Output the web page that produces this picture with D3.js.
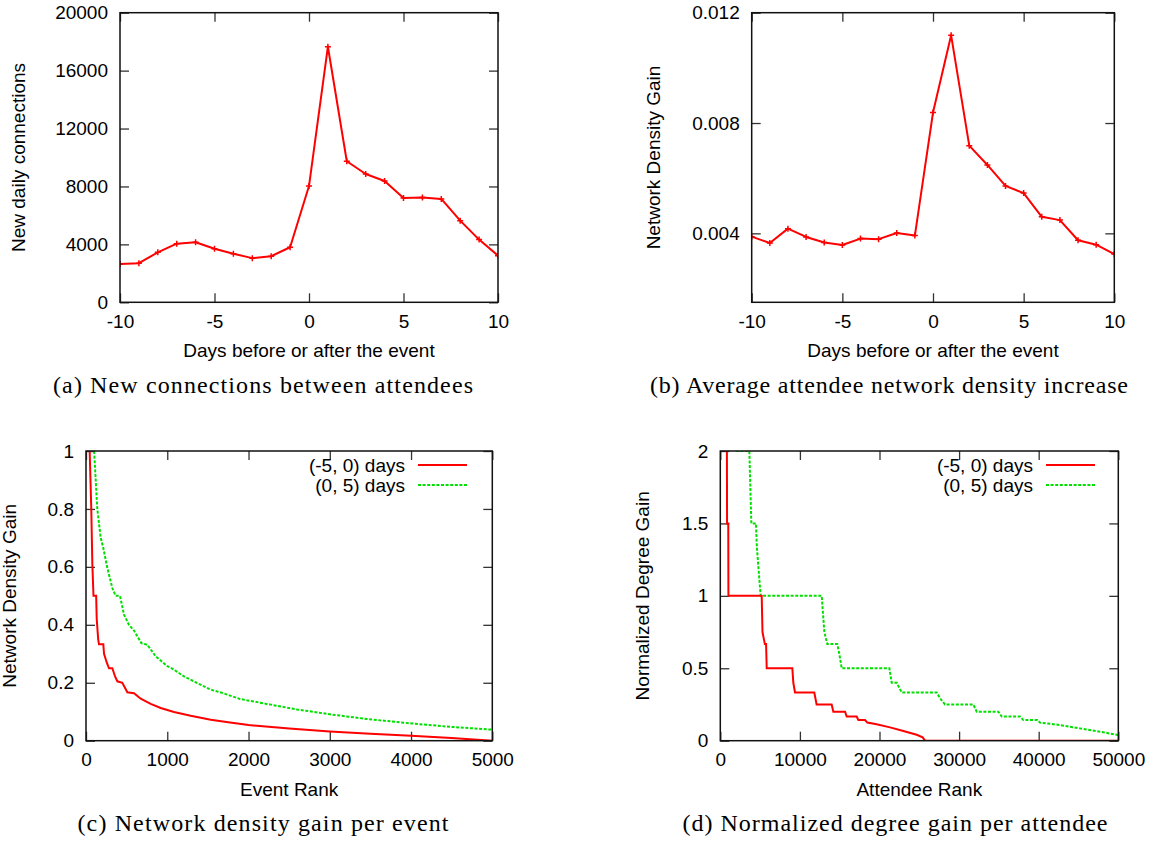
<!DOCTYPE html>
<html>
<head>
<meta charset="utf-8">
<script src="https://cdn.jsdelivr.net/npm/d3@7"></script>
<style>
  body { margin: 0; background: #fff; }
  svg { display: block; }
  .tick text { font-family: "Liberation Sans", Arial, sans-serif; font-size: 19px; fill: #000; }
  .title { font-family: "Liberation Sans", Arial, sans-serif; font-size: 19px; fill: #000; }
  .caption { font-family: "Liberation Serif", "Times New Roman", serif; font-size: 24px; fill: #000; }
</style>
</head>
<body>
<svg id="chart" width="1163" height="841"></svg>
<script>
// data
const days = [-10, -9, -8, -7, -6, -5, -4, -3, -2, -1, 0, 1, 2, 3, 4, 5, 6, 7, 8, 9, 10];
const newConnections = [2650, 2700, 3450, 4050, 4150, 3700, 3350, 3050, 3180, 3800, 8030, 17650, 9740, 8860, 8380, 7200, 7230, 7140, 5640, 4330, 3220];
const densityGain = [0.00388, 0.00365, 0.00417, 0.00387, 0.00367, 0.00358, 0.00381, 0.00379, 0.00401, 0.00392, 0.00838, 0.01118, 0.00718, 0.00648, 0.00572, 0.00546, 0.0046, 0.00448, 0.00375, 0.00359, 0.00325];

// (c) event rank vs network density gain
const eventGainBefore = [[45, 1.0], [65, 0.8], [78, 0.61], [92, 0.5], [125, 0.5], [132, 0.42], [150, 0.35], [160, 0.333], [213, 0.333], [222, 0.3], [255, 0.27], [283, 0.25], [324, 0.25], [360, 0.22], [386, 0.205], [447, 0.2], [509, 0.167], [591, 0.164], [673, 0.145], [796, 0.127], [919, 0.113], [1083, 0.099], [1288, 0.086], [1535, 0.0725], [1750, 0.064], [2000, 0.054], [2500, 0.042], [3000, 0.032], [3500, 0.024], [4000, 0.017], [4500, 0.009], [5000, 0.0]];
const eventGainAfter = [[100, 1.0], [139, 0.8], [181, 0.7], [213, 0.665], [263, 0.596], [324, 0.527], [365, 0.5], [418, 0.5], [468, 0.435], [529, 0.4], [591, 0.38], [681, 0.337], [755, 0.331], [858, 0.291], [1001, 0.257], [1062, 0.249], [1206, 0.222], [1370, 0.199], [1535, 0.176], [1678, 0.165], [1896, 0.144], [2224, 0.127], [2594, 0.108], [3004, 0.091], [3455, 0.075], [3989, 0.06], [4481, 0.048], [5000, 0.038]];

// (d) attendee rank vs normalized degree gain
const degreeGainBefore = [[830, 2], [850, 1.5], [1000, 1.5], [1020, 1.0], [5200, 1.0], [5300, 0.75], [5600, 0.667], [5750, 0.667], [5830, 0.5], [9050, 0.5], [9175, 0.4], [9385, 0.333], [11810, 0.333], [12100, 0.25], [13990, 0.25], [14200, 0.2], [15670, 0.2], [15880, 0.167], [17130, 0.167], [17340, 0.143], [18180, 0.143], [18470, 0.125], [19640, 0.113], [21320, 0.092], [23000, 0.067], [24670, 0.041], [25420, 0.023], [25720, 0], [50000, 0]];
const degreeGainAfter = [[1950, 2], [3650, 2], [3900, 1.5], [4480, 1.5], [4600, 1.33], [5070, 1.0], [12740, 1.0], [13070, 0.75], [13450, 0.667], [14700, 0.667], [14950, 0.6], [15250, 0.5], [21240, 0.5], [21530, 0.4], [22160, 0.4], [22790, 0.333], [27180, 0.333], [27700, 0.286], [28230, 0.25], [31790, 0.25], [32210, 0.2], [34930, 0.2], [35350, 0.167], [37650, 0.167], [38070, 0.143], [39830, 0.143], [40160, 0.125], [42680, 0.108], [45190, 0.085], [48120, 0.058], [50000, 0.039]];

// tick values
const dayTicks = [-10, -5, 0, 5, 10];
const connTicks = [0, 4000, 8000, 12000, 16000, 20000];
const densTicks = [0.004, 0.008, 0.012];
const eventRankTicks = [0, 1000, 2000, 3000, 4000, 5000];
const eventGainTicks = [0, 0.2, 0.4, 0.6, 0.8, 1];
const attRankTicks = [0, 10000, 20000, 30000, 40000, 50000];
const degTicks = [0, 0.5, 1, 1.5, 2];

const legendLabels = ["(-5, 0) days", "(0, 5) days"];
const RED = "#ff0000", GREEN = "#00e000";

const svg = d3.select("#chart");

// plain number text, ascii hyphen for negatives like gnuplot
const plain = d => String(d);

// draws one gnuplot-style panel: frame, inward ticks on all four sides
function drawPanel(p) {
  const g = svg.append("g").attr("transform", `translate(${p.left},${p.top})`);
  const w = p.width, h = p.height;
  const x = d3.scaleLinear().domain(p.xDomain).range([0, w]);
  const y = d3.scaleLinear().domain(p.yDomain).range([h, 0]);

  g.append("g").attr("transform", `translate(0,${h})`)
    .call(d3.axisBottom(x).tickValues(p.xTicks).tickSizeInner(-9).tickSizeOuter(0).tickPadding(12).tickFormat(plain));
  g.append("g")
    .call(d3.axisLeft(y).tickValues(p.yTicks).tickSizeInner(-9).tickSizeOuter(0).tickPadding(12).tickFormat(p.yFormat));
  g.append("g")
    .call(d3.axisTop(x).tickValues(p.xTicks).tickSizeInner(-9).tickSizeOuter(0).tickFormat(""));
  g.append("g").attr("transform", `translate(${w},0)`)
    .call(d3.axisRight(y).tickValues(p.yTicks).tickSizeInner(-9).tickSizeOuter(0).tickFormat(""));
  g.selectAll(".domain").remove();
  g.selectAll(".tick line").attr("stroke", "#333").attr("stroke-width", 1.3);

  const clipId = "clip" + p.id;
  g.append("clipPath").attr("id", clipId)
    .append("rect").attr("width", w).attr("height", h);

  const plot = g.append("g").attr("clip-path", `url(#${clipId})`);

  // frame
  g.append("rect").attr("width", w).attr("height", h)
    .attr("fill", "none").attr("stroke", "#111").attr("stroke-width", 1.5);

  // axis titles
  g.append("text").attr("class", "title")
    .attr("x", w / 2).attr("y", h + 55)
    .attr("text-anchor", "middle").text(p.xTitle);
  g.append("text").attr("class", "title")
    .attr("transform", `translate(${-p.yTitleOffset},${h / 2}) rotate(-90)`)
    .attr("text-anchor", "middle").text(p.yTitle);

  // caption (computer modern is wider than the serif we have, so stretch spacing a bit)
  svg.append("text").attr("class", "caption")
    .attr("x", p.captionX).attr("y", p.captionY)
    .attr("text-anchor", "middle")
    .attr("textLength", p.captionWidth).attr("lengthAdjust", "spacing")
    .text(p.caption);

  return { g, plot, x, y, w, h };
}

function addLegend(panel, rightX) {
  const styles = [{ c: RED, dash: null }, { c: GREEN, dash: "3,1.6" }];
  legendLabels.forEach((lab, i) => {
    const yy = 14 + i * 20;
    panel.g.append("text").attr("class", "title")
      .attr("x", rightX).attr("y", yy).attr("dy", "0.35em")
      .attr("text-anchor", "end").text(lab);
    panel.g.append("line")
      .attr("x1", rightX + 13).attr("x2", rightX + 62)
      .attr("y1", yy).attr("y2", yy)
      .attr("stroke", styles[i].c).attr("stroke-width", 2)
      .attr("stroke-dasharray", styles[i].dash);
  });
}

// (a)
const pa = drawPanel({
  id: "a", left: 120, top: 12.7, width: 378, height: 289.6,
  xDomain: [-10, 10], yDomain: [0, 20000], xTicks: dayTicks, yTicks: connTicks,
  yFormat: plain, xTitle: "Days before or after the event", yTitle: "New daily connections",
  yTitleOffset: 95, caption: "(a) New connections between attendees", captionX: 263, captionY: 392.7, captionWidth: 420
});
// (b)
const pb = drawPanel({
  id: "b", left: 751.7, top: 12.7, width: 362.6, height: 289.6,
  xDomain: [-10, 10], yDomain: [0.0015, 0.012], xTicks: dayTicks, yTicks: densTicks,
  yFormat: d3.format(".3f"), xTitle: "Days before or after the event", yTitle: "Network Density Gain",
  yTitleOffset: 92, caption: "(b) Average attendee network density increase", captionX: 889, captionY: 392.7, captionWidth: 478
});
// (c)
const pc = drawPanel({
  id: "c", left: 86, top: 451, width: 406.3, height: 289.7,
  xDomain: [0, 5000], yDomain: [0, 1], xTicks: eventRankTicks, yTicks: eventGainTicks,
  yFormat: plain, xTitle: "Event Rank", yTitle: "Network Density Gain",
  yTitleOffset: 70, caption: "(c) Network density gain per event", captionX: 263, captionY: 830.7, captionWidth: 371
});
// (d)
const pd = drawPanel({
  id: "d", left: 720.3, top: 451, width: 398, height: 289.7,
  xDomain: [0, 50000], yDomain: [0, 2], xTicks: attRankTicks, yTicks: degTicks,
  yFormat: plain, xTitle: "Attendee Rank", yTitle: "Normalized Degree Gain",
  yTitleOffset: 71, caption: "(d) Normalized degree gain per attendee", captionX: 895, captionY: 830.7, captionWidth: 425
});

// time series with + markers
function drawSeries(panel, values) {
  const pts = days.map((d, i) => [d, values[i]]);
  const line = d3.line().x(d => panel.x(d[0])).y(d => panel.y(d[1]));
  panel.plot.append("path").datum(pts)
    .attr("d", line).attr("fill", "none")
    .attr("stroke", RED).attr("stroke-width", 2).attr("stroke-linejoin", "round");
  panel.plot.selectAll(".mk").data(pts).join("path")
    .attr("class", "mk")
    .attr("d", d => {
      const cx = panel.x(d[0]), cy = panel.y(d[1]);
      return `M${cx - 3},${cy}H${cx + 3}M${cx},${cy - 3}V${cy + 3}`;
    })
    .attr("stroke", RED).attr("stroke-width", 1.5);
}
drawSeries(pa, newConnections);
drawSeries(pb, densityGain);

function drawCurve(panel, pts, color, dash) {
  const line = d3.line().x(d => panel.x(d[0])).y(d => panel.y(d[1]));
  panel.plot.append("path").datum(pts)
    .attr("d", line).attr("fill", "none")
    .attr("stroke", color).attr("stroke-width", 2)
    .attr("stroke-dasharray", dash);
}
drawCurve(pc, eventGainAfter, GREEN, "3,1.6");
drawCurve(pc, eventGainBefore, RED, null);
drawCurve(pd, degreeGainAfter, GREEN, "3,1.6");
drawCurve(pd, degreeGainBefore, RED, null);

addLegend(pc, 405 - 86);
addLegend(pd, 1033 - 720.3);
</script>
</body>
</html>
